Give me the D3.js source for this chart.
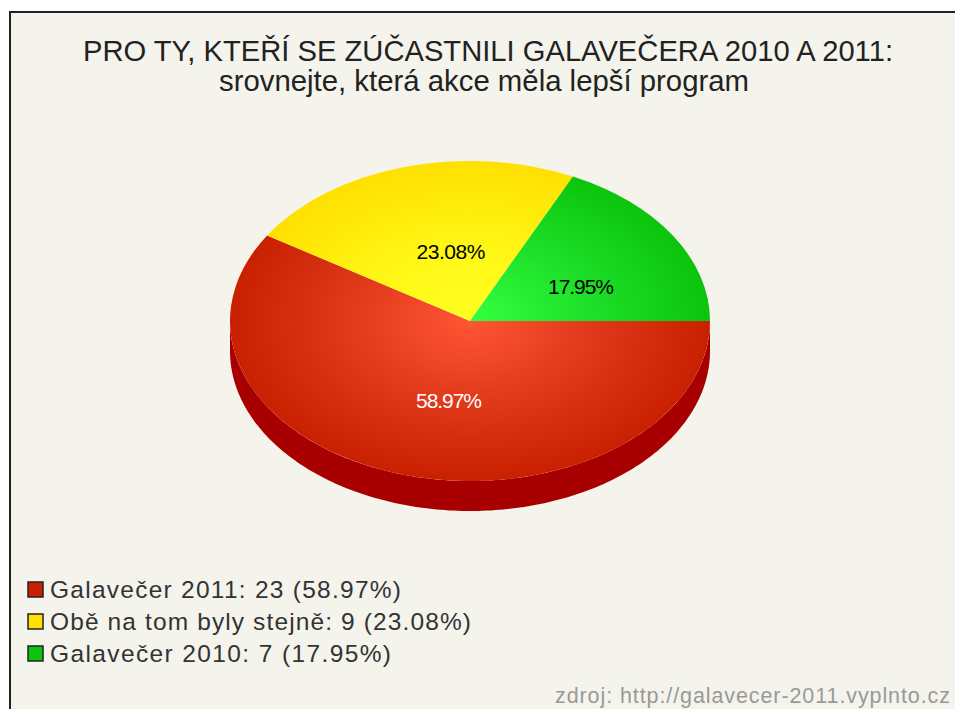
<!DOCTYPE html>
<html>
<head>
<meta charset="utf-8">
<script src="https://cdn.jsdelivr.net/npm/d3@7"></script>
<style>
html, body { margin: 0; padding: 0; background: #fff; overflow: hidden; }
svg { display: block; }
text { font-family: "Liberation Sans", Arial, sans-serif; }
</style>
</head>
<body>
<script>
var categories = ['Galavečer 2011', 'Obě na tom byly stejně', 'Galavečer 2010'];
var counts = [23, 9, 7];
var percents = ['58.97%', '23.08%', '17.95%'];
var innerColors = ['#ff5535', '#ffff22', '#35ff40'];
var middleColors = ['#e03a1a', '#fff514', '#1ee02a'];
var outerColors = ['#c82000', '#ffe000', '#0cc40c'];
var labelColors = ['#fff', '#000', '#000'];
var titleLines = ['PRO TY, KTEŘÍ SE ZÚČASTNILI GALAVEČERA 2010 A 2011:', 'srovnejte, která akce měla lepší program'];

var width = 955,
  height = 709,
  cx = 470,
  cy = 321,
  rx = 240,
  ry = 160,
  depth = 30;

var svg = d3.select('body').append('svg').attr('width', width).attr('height', height);
var defs = svg.append('defs');

svg.append('rect')
  .attr('x', 10)
  .attr('y', 12)
  .attr('width', width + 20)
  .attr('height', height + 20)
  .style('fill', '#f4f4ec')
  .style('stroke', '#222')
  .style('stroke-width', 2);

svg.selectAll('.title')
  .data(titleLines)
  .enter()
  .append('text')
  .attr('class', 'title')
  .attr('x', function(d, i) { return i == 0 ? 488 : 484; })
  .attr('y', function(d, i) { return 61 + i * 30; })
  .attr('text-anchor', 'middle')
  .attr('textLength', function(d, i) { return i == 0 ? 810 : 530; })
  .attr('lengthAdjust', 'spacingAndGlyphs')
  .style('font-size', '29px')
  .style('fill', '#222')
  .text(function(d) { return d; });

categories.forEach(function(c, i) {
  var grad = defs.append('radialGradient')
    .attr('id', 'slice' + i)
    .attr('gradientUnits', 'userSpaceOnUse')
    .attr('cx', 0)
    .attr('cy', 0)
    .attr('r', rx);
  grad.append('stop').attr('offset', '0%').attr('stop-color', innerColors[i]);
  grad.append('stop').attr('offset', '50%').attr('stop-color', middleColors[i]);
  grad.append('stop').attr('offset', '100%').attr('stop-color', outerColors[i]);
});

var pie = d3.pie()
  .sort(null)
  .startAngle(Math.PI / 2)
  .endAngle(Math.PI / 2 + Math.PI * 2);
var arcs = pie(counts);
var arc = d3.arc().innerRadius(0).outerRadius(rx);

// side wall of the pie, only the lower half shows
var wallX = d3.scaleLinear().domain([-1, 1]).range([cx - rx, cx + rx]);
var wallY = d3.scaleLinear().domain([-1, 1]).range([cy - ry, cy + ry]);
var wall = d3.area()
  .x(function(a) { return wallX(Math.cos(a)); })
  .y0(function(a) { return wallY(Math.sin(a)); })
  .y1(function(a) { return wallY(Math.sin(a)) + depth; });

svg.append('path')
  .attr('d', wall(d3.range(0, 181).map(function(d) { return d * Math.PI / 180; })))
  .style('fill', '#a80000');

var g = svg.append('g')
  .attr('transform', 'translate(' + cx + ',' + cy + ') scale(1,' + ry / rx + ')');

g.selectAll('path')
  .data(arcs)
  .enter()
  .append('path')
  .attr('d', arc)
  .style('fill', function(d, i) { return 'url(#slice' + i + ')'; });

var labelPos = [[449, 408], [451, 259], [581, 294]];
svg.selectAll('.pct')
  .data(percents)
  .enter()
  .append('text')
  .attr('class', 'pct')
  .attr('x', function(d, i) { return labelPos[i][0]; })
  .attr('y', function(d, i) { return labelPos[i][1]; })
  .attr('text-anchor', 'middle')
  .attr('textLength', function(d, i) { return i == 1 ? 69 : 66; })
  .attr('lengthAdjust', 'spacing')
  .style('font-size', '21px')
  .style('fill', function(d, i) { return labelColors[i]; })
  .text(function(d) { return d; });

var legendY = d3.scaleLinear().domain([0, 2]).range([582, 646]);
var legend = svg.selectAll('.legend')
  .data(categories)
  .enter()
  .append('g')
  .attr('class', 'legend');

legend.append('rect')
  .attr('x', 28)
  .attr('y', function(d, i) { return legendY(i); })
  .attr('width', 15)
  .attr('height', 15)
  .style('fill', function(d, i) { return outerColors[i]; })
  .style('stroke', '#222')
  .style('stroke-width', 1.5);

legend.append('text')
  .attr('x', 50)
  .attr('y', function(d, i) { return legendY(i) + 16; })
  .attr('textLength', function(d, i) { return [351, 421, 341][i]; })
  .attr('lengthAdjust', 'spacing')
  .style('font-size', '24.5px')
  .style('fill', '#333')
  .text(function(d, i) { return d + ': ' + counts[i] + ' (' + percents[i] + ')'; });

svg.append('text')
  .attr('x', 555)
  .attr('y', 703)
  .attr('textLength', 395)
  .attr('lengthAdjust', 'spacing')
  .style('font-size', '21.5px')
  .style('fill', '#999')
  .text('zdroj: http://galavecer-2011.vyplnto.cz');
</script>
</body>
</html>
